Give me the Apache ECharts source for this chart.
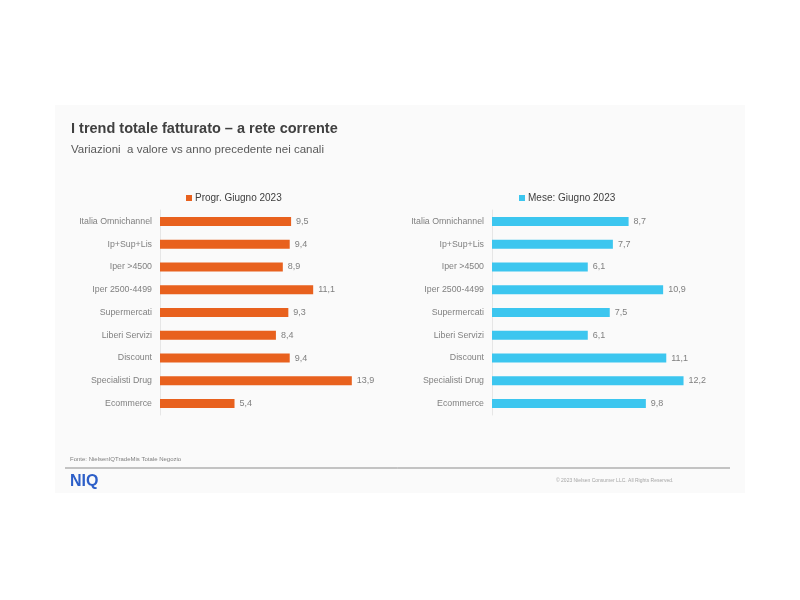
<!DOCTYPE html>
<html>
<head>
<meta charset="utf-8">
<script src="https://cdn.jsdelivr.net/npm/echarts@6/dist/echarts.min.js"></script>
<style>html,body{margin:0;padding:0;background:#fff;}#c{width:800px;height:600px;}</style>
</head>
<body>
<div id="c"></div>
<script>
const categories = ["Italia Omnichannel","Ip+Sup+Lis","Iper >4500","Iper 2500-4499","Supermercati","Liberi Servizi","Discount","Specialisti Drug","Ecommerce"];
const progrValues = [9.5, 9.4, 8.9, 11.1, 9.3, 8.4, 9.4, 13.9, 5.4];
const meseValues = [8.7, 7.7, 6.1, 10.9, 7.5, 6.1, 11.1, 12.2, 9.8];
const seriesNames = ["Progr. Giugno 2023", "Mese: Giugno 2023"];

const FONT = "'Liberation Sans', Arial, sans-serif";
const chart = echarts.init(document.getElementById('c'));
const fmt = p => String(p.value).replace('.', ',');
const catAxis = (gi) => ({
  type: 'category', gridIndex: gi, data: categories, inverse: true,
  axisLine: {show: true, lineStyle: {color: '#e6e6e6', width: 1}},
  axisTick: {show: false},
  axisLabel: {color: '#808080', fontSize: 8.8, fontFamily: FONT, margin: 8}
});
const valAxis = (gi, max) => ({
  type: 'value', gridIndex: gi, min: 0, max: max, show: false, splitLine: {show: false}
});
chart.setOption({
  animation: false,
  backgroundColor: '#ffffff',
  graphic: [
    {type: 'rect', z: -10, shape: {x: 55, y: 105, width: 690, height: 388}, style: {fill: '#fafafa'}},
    {type: 'text', left: 71, top: 121, style: {text: 'I trend totale fatturato – a rete corrente', fill: '#404040', font: 'bold 14.5px ' + FONT}},
    {type: 'text', left: 71, top: 144, style: {text: 'Variazioni  a valore vs anno precedente nei canali', fill: '#595959', font: '11.5px ' + FONT}},
    {type: 'text', left: 70, top: 456, style: {text: 'Fonte: NielsenIQTradeMis Totale Negozio', fill: '#7f7f7f', font: '6px ' + FONT}},
    {type: 'line', shape: {x1: 65, y1: 468, x2: 730, y2: 468}, style: {stroke: '#8c8c8c', lineWidth: 1}},
    {type: 'text', left: 70, top: 474, style: {text: 'NIQ', fill: '#2d5fc8', font: 'bold 16px ' + FONT}},
    {type: 'text', left: 556, top: 478, style: {text: '© 2023 Nielsen Consumer LLC. All Rights Reserved.', fill: '#a6a6a6', font: '5px ' + FONT}}
  ],
  legend: [
    {data: [seriesNames[0]], left: 181, top: 188, itemWidth: 6, itemHeight: 6, itemGap: 4, icon: 'rect',
     textStyle: {color: '#404040', fontSize: 10, fontFamily: FONT, padding: [0,0,0,-2]}},
    {data: [seriesNames[1]], left: 514, top: 188, itemWidth: 6, itemHeight: 6, itemGap: 4, icon: 'rect',
     textStyle: {color: '#404040', fontSize: 10, fontFamily: FONT, padding: [0,0,0,-2]}}
  ],
  grid: [
    {left: 160, top: 210, width: 220.8, height: 205},
    {left: 492, top: 210, width: 219.8, height: 205}
  ],
  xAxis: [valAxis(0, 16), valAxis(1, 14)],
  yAxis: [catAxis(0), catAxis(1)],
  series: [
    {name: seriesNames[0], type: 'bar', xAxisIndex: 0, yAxisIndex: 0, data: progrValues, barWidth: 9,
     itemStyle: {color: '#e8611e'},
     label: {show: true, position: 'right', distance: 5, formatter: fmt, color: '#7f7f7f', fontSize: 9, fontFamily: FONT}},
    {name: seriesNames[1], type: 'bar', xAxisIndex: 1, yAxisIndex: 1, data: meseValues, barWidth: 9,
     itemStyle: {color: '#3cc6ef'},
     label: {show: true, position: 'right', distance: 5, formatter: fmt, color: '#7f7f7f', fontSize: 9, fontFamily: FONT}}
  ]
});
</script>
</body>
</html>
